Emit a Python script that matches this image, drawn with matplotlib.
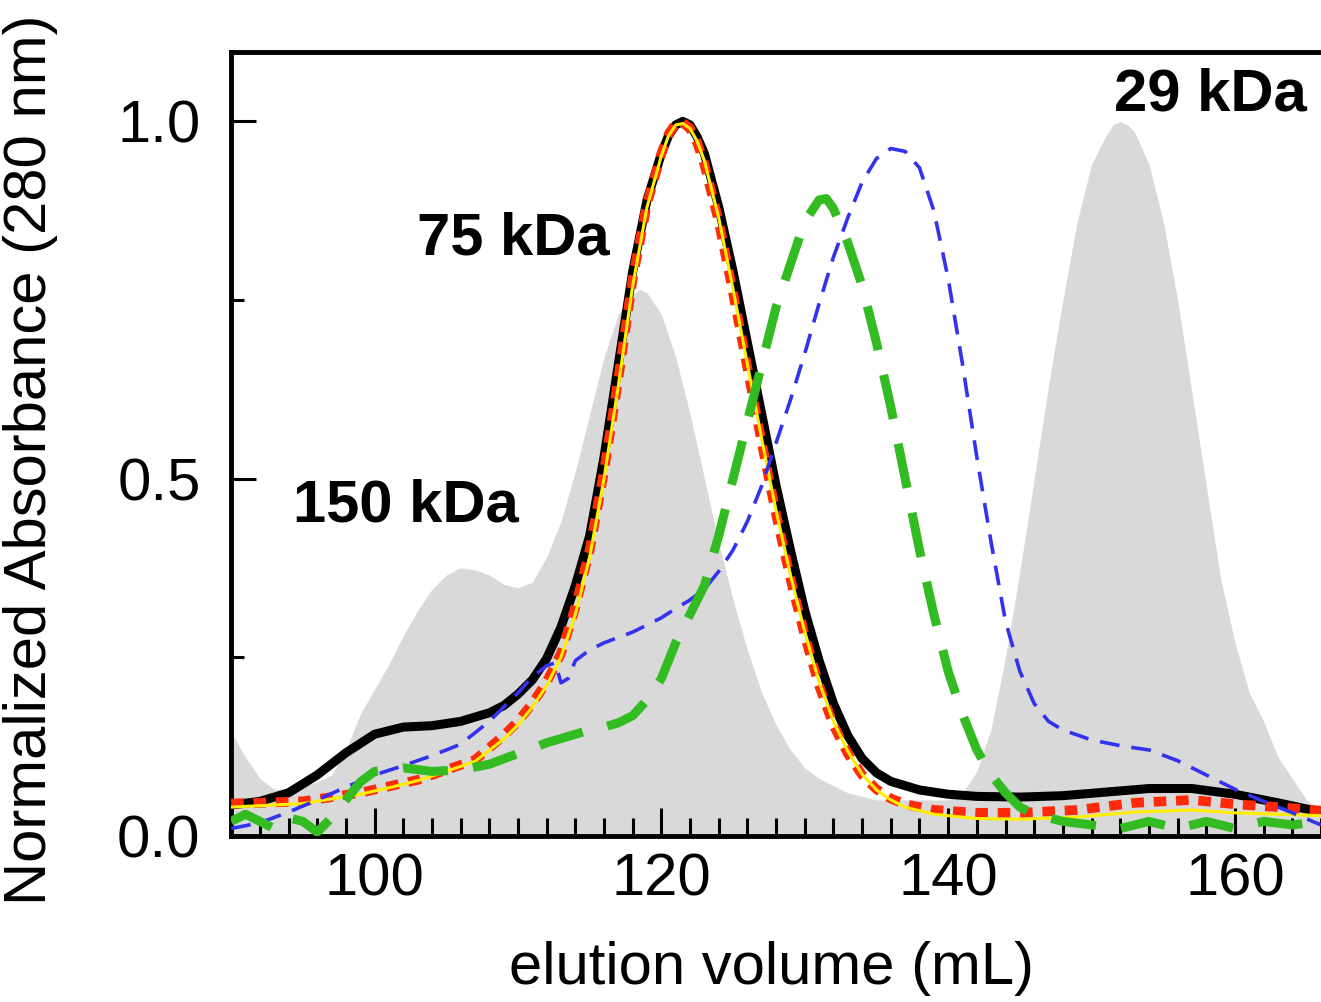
import numpy as np
import matplotlib
matplotlib.use('Agg')
import matplotlib.pyplot as plt
from matplotlib.ticker import MultipleLocator

plt.rcParams['font.family'] = ['Liberation Sans', 'DejaVu Sans']

# gel filtration standards (grey fill)
std_x = [90, 91, 92, 93, 94, 95, 96, 97, 98, 99, 100, 101, 102, 103, 104, 105, 106, 107,
         108, 109, 110, 111, 112, 113, 114, 115, 116, 117, 118, 118.5, 119, 120, 121, 122,
         123, 124, 125, 126, 127, 128, 129, 130, 131, 132, 133, 134, 135, 136, 137, 138,
         139, 140, 141, 142, 143, 144, 145, 146, 147, 148, 149, 150, 151, 151.5, 152,
         152.5, 153, 154, 155, 156, 157, 158, 159, 160, 161, 162, 163, 164, 165, 166]
std_y = [0.145, 0.11, 0.08, 0.065, 0.065, 0.07, 0.075, 0.085, 0.12, 0.17, 0.205, 0.24,
         0.28, 0.315, 0.345, 0.365, 0.375, 0.372, 0.365, 0.352, 0.347, 0.355, 0.39, 0.44,
         0.51, 0.59, 0.67, 0.73, 0.758, 0.765, 0.76, 0.73, 0.67, 0.59, 0.5, 0.41, 0.33,
         0.26, 0.2, 0.155, 0.12, 0.095, 0.08, 0.07, 0.06, 0.055, 0.05, 0.05, 0.05, 0.05,
         0.05, 0.05, 0.06, 0.09, 0.15, 0.25, 0.37, 0.5, 0.63, 0.75, 0.86, 0.94, 0.98,
         0.995, 1.0, 0.995, 0.985, 0.94, 0.86, 0.75, 0.62, 0.49, 0.36, 0.27, 0.2, 0.16,
         0.11, 0.08, 0.05, 0.035]

# black solid
blk_x = [90, 92, 94, 96, 98, 100, 102, 104, 106, 108, 109, 110, 111, 112, 113, 114, 115,
         116, 117, 118, 119, 120, 120.5, 121, 121.5, 122, 122.5, 123, 124, 125, 126, 127,
         128, 129, 130, 131, 132, 133, 134, 135, 136, 138, 140, 142, 145, 148, 151, 154,
         157, 160, 163, 166]
blk_y = [0.043, 0.048, 0.06, 0.085, 0.116, 0.142, 0.152, 0.154, 0.16, 0.172, 0.182, 0.198,
         0.218, 0.248, 0.292, 0.35, 0.42, 0.53, 0.66, 0.79, 0.89, 0.955, 0.98, 0.995, 1.0,
         0.995, 0.978, 0.955, 0.88, 0.79, 0.69, 0.59, 0.49, 0.4, 0.315, 0.245, 0.185,
         0.14, 0.108, 0.088, 0.076, 0.064, 0.058, 0.055, 0.054, 0.056, 0.061, 0.066,
         0.066, 0.058, 0.046, 0.033]

# red dashed
red_x = [90, 92, 95, 99, 101, 103, 105, 107, 109, 110, 111, 112, 113, 114, 115, 116, 117,
         118, 119, 120, 120.5, 121, 121.5, 122, 122.5, 123, 124, 125, 126, 127, 128, 129,
         130, 131, 132, 133, 134, 135, 136, 137, 139, 142, 145, 149, 153, 157, 160, 163, 166]
red_y = [0.045, 0.046, 0.048, 0.06, 0.069, 0.078, 0.092, 0.106, 0.14, 0.16, 0.185, 0.215,
         0.255, 0.32, 0.4, 0.51, 0.64, 0.78, 0.885, 0.955, 0.982, 0.997, 0.998, 0.99, 0.97,
         0.94, 0.86, 0.76, 0.655, 0.55, 0.45, 0.36, 0.28, 0.21, 0.155, 0.115, 0.085, 0.065,
         0.052, 0.044, 0.036, 0.032, 0.032, 0.036, 0.046, 0.05, 0.044, 0.04, 0.035]

# yellow thin
yel_x = [90, 92, 95, 99, 101, 103, 105, 107, 109, 110, 111, 112, 113, 114, 115, 116, 117,
         118, 119, 120, 120.5, 121, 121.5, 122, 122.5, 123, 124, 125, 126, 127, 128, 129,
         130, 131, 132, 133, 134, 135, 136, 137, 139, 142, 145, 149, 153, 157, 160, 163, 166]
yel_y = [0.04, 0.042, 0.045, 0.058, 0.067, 0.077, 0.09, 0.104, 0.135, 0.155, 0.18, 0.21,
         0.25, 0.31, 0.39, 0.5, 0.63, 0.77, 0.88, 0.952, 0.98, 0.995, 0.997, 0.99, 0.972,
         0.945, 0.865, 0.765, 0.66, 0.555, 0.455, 0.365, 0.285, 0.215, 0.16, 0.118, 0.086,
         0.064, 0.05, 0.04, 0.03, 0.024, 0.023, 0.026, 0.033, 0.036, 0.032, 0.03, 0.028]

# blue thin dashed
blu_x = [90, 92, 94, 96, 98, 100, 102, 104, 106, 108, 110, 111, 112, 112.6, 113, 113.5,
         114, 115, 116, 118, 120, 121, 122, 123, 124, 125, 126, 127, 128, 129, 130, 131,
         132, 133, 134, 135, 136, 137, 138, 139, 140, 141, 142, 143, 144, 145, 146, 147,
         148, 150, 152, 154, 156, 158, 160, 162, 164, 166]
blu_y = [0.01, 0.018, 0.033, 0.05, 0.068, 0.085, 0.098, 0.112, 0.128, 0.16, 0.2, 0.222,
         0.238, 0.242, 0.214, 0.22, 0.245, 0.26, 0.27, 0.285, 0.305, 0.318, 0.33, 0.345,
         0.37, 0.4, 0.44, 0.49, 0.55, 0.61, 0.675, 0.745, 0.81, 0.865, 0.915, 0.948, 0.962,
         0.958, 0.935, 0.875, 0.78, 0.66, 0.53, 0.41, 0.3, 0.23, 0.185, 0.16, 0.148, 0.134,
         0.126, 0.12, 0.105, 0.085, 0.065, 0.048, 0.032, 0.015]

# green thick long dashed
grn_x = [90, 91, 92, 93, 94, 95, 96, 97, 98, 99, 100, 102, 104, 106, 108, 110, 112, 114,
         115, 116, 117, 118, 119, 120, 121, 122, 123, 124, 125, 126, 127, 128, 129, 130,
         131, 131.5, 132, 133, 134, 135, 136, 137, 138, 139, 140, 141, 142, 143, 144, 145,
         146, 148, 150, 152, 154, 156, 158, 160, 162, 164, 166]
grn_y = [0.02, 0.03, 0.02, 0.01, 0.025, 0.02, 0.005, 0.025, 0.05, 0.075, 0.09, 0.095,
         0.09, 0.092, 0.1, 0.115, 0.13, 0.142, 0.148, 0.152, 0.158, 0.168, 0.19, 0.22,
         0.27, 0.31, 0.35, 0.42, 0.5, 0.58, 0.66, 0.74, 0.8, 0.86, 0.89, 0.892, 0.878,
         0.83, 0.77, 0.69, 0.6, 0.5, 0.4, 0.31, 0.23, 0.17, 0.12, 0.085, 0.06, 0.04, 0.03,
         0.02, 0.015, 0.01, 0.02, 0.01, 0.02, 0.01, 0.02, 0.015, 0.02]

labels = ['150 kDa', '75 kDa', '29 kDa']
label_x = [102.2, 109.7, 158.3]
label_y = [0.462, 0.836, 1.037]

fig = plt.figure(figsize=(13.21, 10.02), dpi=100)
ax = fig.add_axes([0.175, 0.166, 0.825, 0.782])

ax.fill_between(std_x, std_y, 0, color='#d9d9d9', lw=0, zorder=1)
ax.plot(blk_x, blk_y, color='black', lw=6.5, solid_capstyle='round', zorder=2)
ax.plot(red_x, red_y, color='#ff2a0a', lw=7, dashes=(1.3, 1.0), zorder=3)
ax.plot(yel_x, yel_y, color='#ffee00', lw=2.2, zorder=4)
ax.plot(blu_x, blu_y, color='#3333ee', lw=2.6, dashes=(5.5, 3.3), zorder=5)
ax.plot(grn_x, grn_y, color='#33bb22', lw=6.5, dashes=(5.0, 2.8), zorder=6)

for t, x, y in zip(labels, label_x, label_y):
    ax.text(x, y, t, fontsize=43, fontweight='bold', ha='center', va='center', zorder=7)

ax.set_xlim(90, 166)
ax.set_ylim(0, 1.097)
ax.xaxis.set_major_locator(MultipleLocator(20))
ax.xaxis.set_minor_locator(MultipleLocator(2))
ax.yaxis.set_major_locator(MultipleLocator(0.5))
ax.yaxis.set_minor_locator(MultipleLocator(0.25))
ax.tick_params(which='both', direction='in', width=2.2, labelsize=43, top=False, right=False)
ax.tick_params(axis='x', which='major', length=20, pad=12)
ax.tick_params(axis='x', which='minor', length=13)
ax.tick_params(axis='y', which='major', length=18, pad=22)
ax.tick_params(axis='y', which='minor', length=9)
ax.set_yticks([0, 0.5, 1.0], ['0.0', '0.5', '1.0'])
for s in ['left', 'top', 'bottom']:
    ax.spines[s].set_linewidth(3.5)
ax.spines['right'].set_visible(False)

ax.set_xlabel('elution volume (mL)', fontsize=43)
ax.set_ylabel('Normalized Absorbance (280 nm)', fontsize=43)
ax.xaxis.set_label_coords(0.496, -0.135)
ax.yaxis.set_label_coords(-0.159, 0.48)

fig.savefig('out.png', dpi=100)
